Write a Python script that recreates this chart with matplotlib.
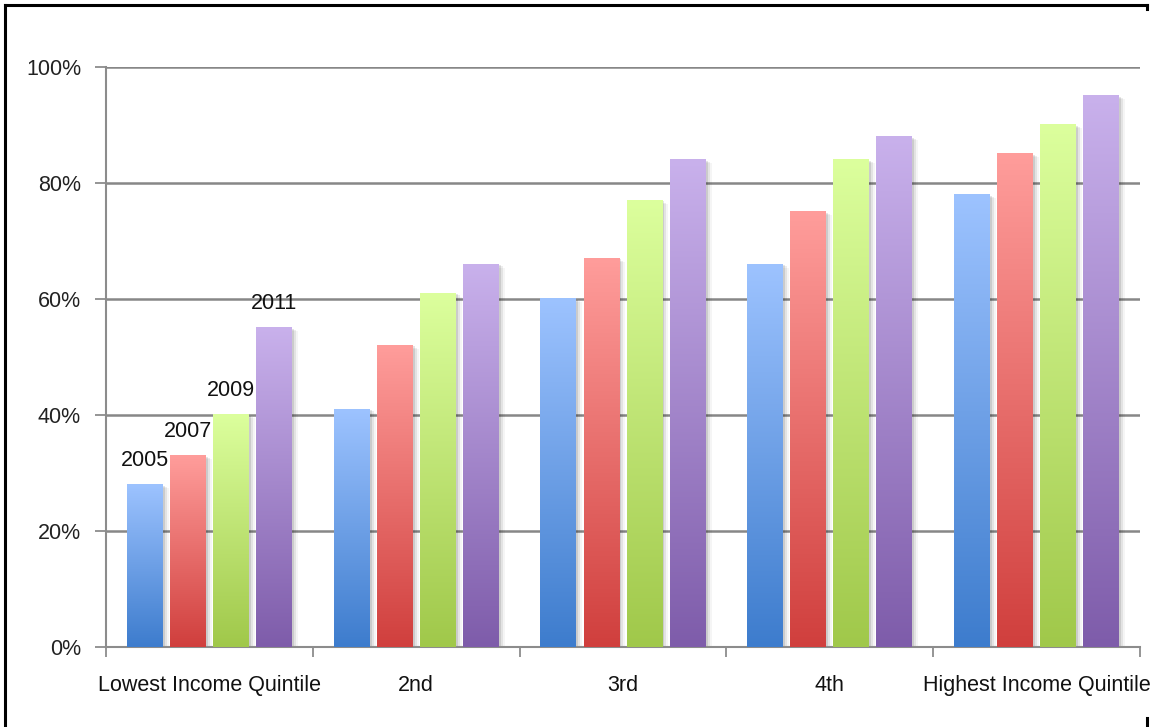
import numpy as np
import matplotlib
matplotlib.use("Agg")
import matplotlib.pyplot as plt
from matplotlib.colors import LinearSegmentedColormap
from matplotlib.lines import Line2D

categories = ["Lowest Income Quintile", "2nd", "3rd", "4th", "Highest Income Quintile"]
years = ["2005", "2007", "2009", "2011"]
share_2005 = [28, 41, 60, 66, 78]
share_2007 = [33, 52, 67, 75, 85]
share_2009 = [40, 61, 77, 84, 90]
share_2011 = [55, 66, 84, 88, 95]
series = [share_2005, share_2007, share_2009, share_2011]

# (bottom colour, top colour) for each year's gradient fill
gradients = [("#3d7ccd", "#9dc3ff"),
             ("#d03f3d", "#ff9d9b"),
             ("#a0c84a", "#dcff9d"),
             ("#7e5caa", "#c9b1ec")]

plt.rcParams["font.family"] = ["Liberation Sans", "DejaVu Sans"]

fig = plt.figure(figsize=(11.59, 7.27), dpi=100)
ax = fig.add_axes([106 / 1159, 80 / 727, 1034 / 1159, 580.3 / 727])

step = 0.208
width = 0.174
px_x = 1 / 206.8          # one pixel in x data units
px_y = 100 / 580.3        # one pixel in y data units

for k, vals in enumerate(series):
    xs = np.arange(len(categories)) + (k - 1.5) * step
    bars = ax.bar(xs, vals, width, color="none", zorder=3)
    cmap = LinearSegmentedColormap.from_list("g%d" % k, gradients[k])
    grad = np.linspace(1, 0, 256).reshape(-1, 1)
    for b in bars:
        x0, h = b.get_x(), b.get_height()
        # soft drop shadow to the right
        for i, a in enumerate([0.10, 0.07, 0.04]):
            off = (i + 1) * 2
            ax.add_patch(plt.Rectangle((x0 + off * px_x, -1), width, h + 1 - off * px_y * 0.6,
                                       facecolor="#000000", alpha=a, lw=0, zorder=2))
        ax.imshow(grad, cmap=cmap, extent=(x0, x0 + width, 0, h),
                  aspect="auto", zorder=3, interpolation="bicubic")
    # year labels above the first group
    ax.text(xs[0], vals[0] + 14 * px_y, years[k], ha="center", va="bottom",
            fontsize=15.5, color="#111111", zorder=4)

ax.set_xlim(-0.5, len(categories) - 0.5)
ax.set_ylim(0, 100)

ax.set_yticks(np.arange(0, 101, 20))
ax.set_yticklabels(["%d%%" % v for v in range(0, 101, 20)], fontsize=15.5, color="#222222")
ax.yaxis.grid(True, color="#878787", linewidth=1.8, zorder=0)
ax.set_axisbelow(True)

ax.set_xticks(np.arange(len(categories)))
ax.set_xticklabels(categories, fontsize=15.5, color="#111111")
ax.set_xticks(np.arange(len(categories) + 1) - 0.5, minor=True)
ax.tick_params(axis="x", which="major", length=0, pad=20)
ax.tick_params(axis="x", which="minor", length=7, width=1.3, color="#8c8c8c", direction="out")
ax.tick_params(axis="y", length=8, width=1.3, color="#8c8c8c", pad=10)

for side in ["top", "right"]:
    ax.spines[side].set_visible(False)
for side in ["left", "bottom"]:
    ax.spines[side].set_color("#8c8c8c")
    ax.spines[side].set_linewidth(1.5)

# frame around the figure
W, H = 1159, 727
frame = dict(color="black", linewidth=2.2, transform=fig.transFigure)
fig.add_artist(Line2D([5 / W, 5 / W], [0, 1 - 5 / H], **frame))
fig.add_artist(Line2D([5 / W, 1147 / W], [1 - 5 / H, 1 - 5 / H], **frame))
fig.add_artist(Line2D([1147 / W, 1147 / W], [1 - 5 / H, 1 - 9 / H], **frame))
fig.add_artist(Line2D([1147 / W, 1147 / W], [0, 1 - 718 / H], **frame))

fig.savefig("out.png", dpi=100)
